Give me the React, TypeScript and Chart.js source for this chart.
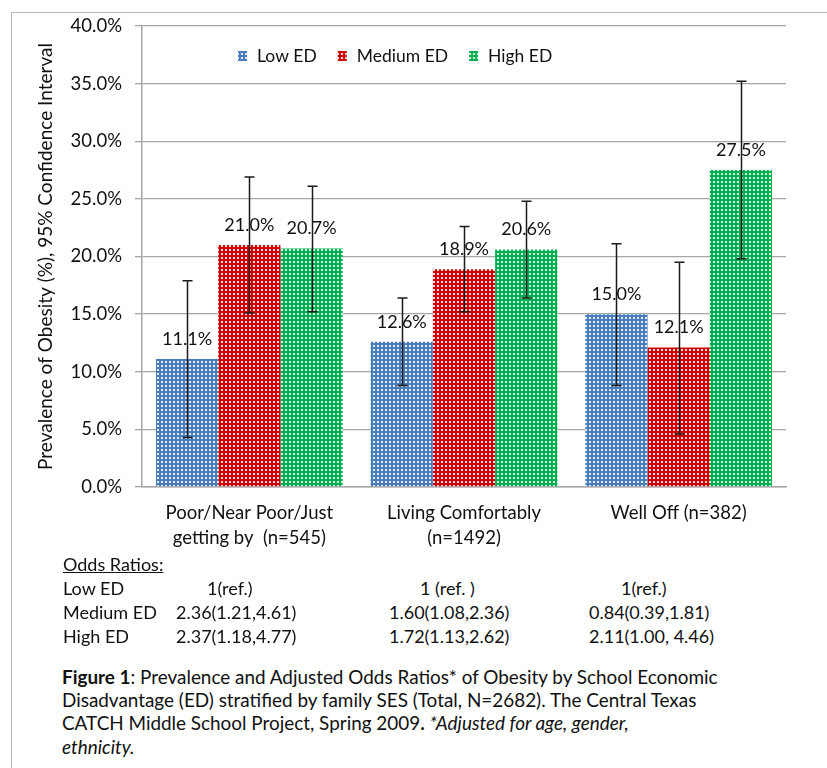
import React, { useEffect, useRef } from "react";
import { Chart, registerables } from "chart.js";

Chart.register(...registerables);

// ---------- data ----------
const categories: string[][] = [
  ["Poor/Near Poor/Just", "getting by  (n=545)"],
  ["Living Comfortably", "(n=1492)"],
  ["Well Off (n=382)"],
];
const seriesNames = ["Low ED", "Medium ED", "High ED"];
const lowED = [11.1, 12.6, 15.0];
const mediumED = [21.0, 18.9, 12.1];
const highED = [20.7, 20.6, 27.5];
const lowEDLower = [4.3, 8.8, 8.8];
const lowEDUpper = [17.9, 16.4, 21.1];
const mediumEDLower = [15.1, 15.2, 4.6];
const mediumEDUpper = [26.9, 22.6, 19.5];
const highEDLower = [15.2, 16.4, 19.8];
const highEDUpper = [26.1, 24.8, 35.2];
const yMin = 0;
const yMax = 40;
const yStep = 5;
const yTitle = "Prevalence of Obesity (%), 95% Confidence Interval";

const oddsHeading = "Odds Ratios:";
const oddsRowLabels = ["Low ED", "Medium ED", "High ED"];
const oddsPoor = ["1(ref.)", "2.36(1.21,4.61)", "2.37(1.18,4.77)"];
const oddsComfortable = ["1 (ref. )", "1.60(1.08,2.36)", "1.72(1.13,2.62)"];
const oddsWellOff = ["1(ref.)", "0.84(0.39,1.81)", "2.11(1.00, 4.46)"];

// ---------- style ----------
const FONT = "Lato, 'Noto Sans', sans-serif";
const TEXT = "#111111";
const GRID = "#a6a6a6";
const COLORS = ["#4a7ebb", "#d00000", "#00b050"];

function makePattern(color: string): CanvasPattern | string {
  const c = document.createElement("canvas");
  c.width = 4;
  c.height = 4;
  const g = c.getContext("2d");
  if (!g) return color;
  g.fillStyle = color;
  g.fillRect(0, 0, 4, 4);
  g.fillStyle = "rgba(255,255,255,0.85)";
  g.fillRect(1, 1, 2, 2);
  const p = g.createPattern(c, "repeat");
  return p || color;
}

const errorBarsPlugin = {
  id: "errorBarsAndLabels",
  afterDatasetsDraw(chart: any) {
    const ctx = chart.ctx;
    const yScale = chart.scales.y;
    const lows = [lowEDLower, mediumEDLower, highEDLower];
    const highs = [lowEDUpper, mediumEDUpper, highEDUpper];
    ctx.save();
    // value labels
    ctx.font = `18px ${FONT}`;
    ctx.fillStyle = TEXT;
    ctx.textAlign = "center";
    ctx.textBaseline = "middle";
    chart.data.datasets.forEach((ds: any, di: number) => {
      const meta = chart.getDatasetMeta(di);
      meta.data.forEach((bar: any, i: number) => {
        ctx.fillText(ds.data[i].toFixed(1) + "%", bar.x, bar.y - 20);
      });
    });
    // error bars
    ctx.strokeStyle = "#1a1a1a";
    ctx.lineWidth = 1.5;
    chart.data.datasets.forEach((_ds: any, di: number) => {
      const meta = chart.getDatasetMeta(di);
      meta.data.forEach((bar: any, i: number) => {
        const x = Math.round(bar.x) + 0.5;
        const yTop = yScale.getPixelForValue(highs[di][i]);
        const yBot = yScale.getPixelForValue(lows[di][i]);
        ctx.beginPath();
        ctx.moveTo(x, yTop);
        ctx.lineTo(x, yBot);
        ctx.moveTo(x - 5, yTop);
        ctx.lineTo(x + 5, yTop);
        ctx.moveTo(x - 5, yBot);
        ctx.lineTo(x + 5, yBot);
        ctx.stroke();
      });
    });
    // legend inside the plot
    const ca = chart.chartArea;
    let lx = ca.left + 96;
    const ly = ca.top + 30;
    ctx.font = `17.5px ${FONT}`;
    ctx.textAlign = "left";
    chart.data.datasets.forEach((ds: any) => {
      ctx.fillStyle = ds.backgroundColor;
      ctx.fillRect(lx, ly - 5, 9, 10);
      lx += 19;
      ctx.fillStyle = TEXT;
      ctx.fillText(ds.label, lx, ly);
      lx += ctx.measureText(ds.label).width + 21;
    });
    ctx.restore();
  },
};

export default function App() {
  const ref = useRef<HTMLCanvasElement | null>(null);

  useEffect(() => {
    if (!ref.current) return;
    const values = [lowED, mediumED, highED];
    const chart = new Chart(ref.current, {
      type: "bar",
      data: {
        labels: categories,
        datasets: seriesNames.map((name, i) => ({
          label: name,
          data: values[i],
          backgroundColor: makePattern(COLORS[i]) as any,
          borderWidth: 0,
          categoryPercentage: 0.87,
          barPercentage: 1.0,
        })),
      },
      options: {
        animation: false,
        responsive: false,
        maintainAspectRatio: false,
        layout: { padding: { top: 26, right: 41, bottom: 0, left: 0 } },
        plugins: {
          legend: { display: false },
          tooltip: { enabled: false },
        },
        scales: {
          x: {
            grid: { display: false, drawTicks: false },
            border: { display: true, color: GRID, width: 1.5 },
            ticks: {
              font: { family: FONT, size: 18.5, lineHeight: 1.35 },
              color: TEXT,
              padding: 14,
              maxRotation: 0,
              autoSkip: false,
            },
            afterFit: (s: any) => {
              s.height = 68;
            },
          },
          y: {
            min: yMin,
            max: yMax,
            ticks: {
              stepSize: yStep,
              font: { family: FONT, size: 18.5 },
              color: TEXT,
              padding: 13,
              callback: (v: any) => Number(v).toFixed(1) + "%",
            },
            grid: { color: GRID, lineWidth: 1.3, tickLength: 7, drawTicks: true },
            border: { display: true, color: GRID, width: 1.5 },
            title: {
              display: true,
              text: yTitle,
              color: TEXT,
              font: { family: FONT, size: 19 },
              padding: { top: 34, bottom: 0 },
            },
            afterFit: (s: any) => {
              s.width = 142;
            },
          },
        },
      },
      plugins: [errorBarsPlugin],
    });
    return () => chart.destroy();
  }, []);

  const rowTops = [588, 612, 636];
  const colLefts = [
    [207, 176, 176],
    [420, 389, 389],
    [621, 589, 589],
  ];
  const cols = [oddsPoor, oddsComfortable, oddsWellOff];
  const tableText: React.CSSProperties = {
    position: "absolute",
    fontFamily: FONT,
    fontSize: 18,
    lineHeight: "22px",
    color: TEXT,
    whiteSpace: "pre",
  };
  const capStyle: React.CSSProperties = {
    position: "absolute",
    left: 62,
    fontFamily: FONT,
    fontSize: 18.9,
    lineHeight: "24px",
    color: TEXT,
    whiteSpace: "pre",
  };

  return (
    <div
      style={{
        position: "absolute",
        left: 0,
        top: 0,
        width: 827,
        height: 768,
        background: "#fff",
        overflow: "hidden",
      }}
    >
      <div
        style={{
          position: "absolute",
          left: 11,
          top: 12,
          width: 900,
          height: 900,
          borderTop: "1.5px solid #b8b8b8",
          borderLeft: "1.5px solid #b8b8b8",
        }}
      />
      <canvas
        ref={ref}
        width={827}
        height={555}
        style={{ position: "absolute", left: 0, top: 0, width: 827, height: 555 }}
      />
      <div style={{ ...tableText, left: 63, top: 564 - 11, textDecoration: "underline" }}>
        {oddsHeading}
      </div>
      {oddsRowLabels.map((lab, r) => (
        <div key={"l" + r} style={{ ...tableText, left: 63, top: rowTops[r] - 11 }}>
          {lab}
        </div>
      ))}
      {cols.map((col, c) =>
        col.map((txt, r) => (
          <div key={c + "-" + r} style={{ ...tableText, left: colLefts[c][r], top: rowTops[r] - 11 }}>
            {txt}
          </div>
        ))
      )}
      <div style={{ ...capStyle, top: 677 - 12 }}>
        <b>Figure 1</b>: Prevalence and Adjusted Odds Ratios* of Obesity by School Economic
      </div>
      <div style={{ ...capStyle, top: 700 - 12 }}>
        Disadvantage (ED) stratified by family SES (Total, N=2682). The Central Texas
      </div>
      <div style={{ ...capStyle, top: 723 - 12 }}>
        CATCH Middle School Project, Spring 2009<b>.</b> <i>*Adjusted for age, gender,</i>
      </div>
      <div style={{ ...capStyle, top: 747 - 12 }}>
        <i>ethnicity.</i>
      </div>
    </div>
  );
}
